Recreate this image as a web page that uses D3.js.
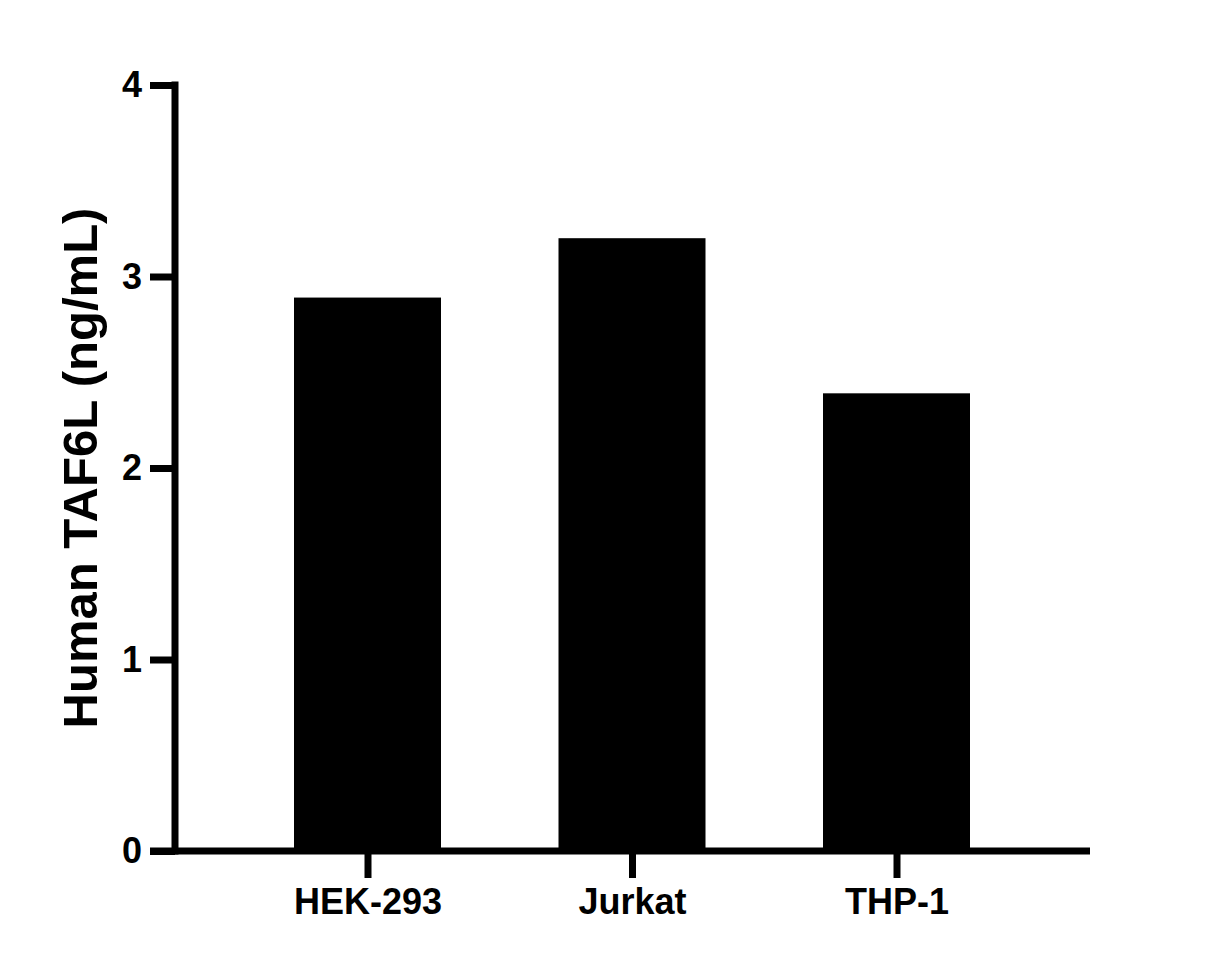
<!doctype html>
<html lang="en">
<head>
<meta charset="utf-8">
<title>Human TAF6L</title>
<script src="https://cdn.jsdelivr.net/npm/d3@7"></script>
<style>
  body { margin: 0; background: #fff; }
  text { font-family: "Liberation Sans", Arial, sans-serif; font-weight: bold; fill: #000; }
</style>
</head>
<body>
<svg id="chart" width="1225" height="972"></svg>
<script>
var categories = ["HEK-293", "Jurkat", "THP-1"];
var values = [2.89, 3.2, 2.39];
var yTicks = [0, 1, 2, 3, 4];

var svg = d3.select("#chart");

var x = d3.scalePoint().domain(categories).range([367.5, 896.5]);
var y = d3.scaleLinear().domain([0, 4]).range([851, 85]);
var barW = 147;

// bars
svg.selectAll("rect.bar")
    .data(values)
  .enter().append("rect")
    .attr("class", "bar")
    .attr("x", function(d, i) { return x(categories[i]) - barW / 2; })
    .attr("y", function(d) { return y(d); })
    .attr("width", barW)
    .attr("height", function(d) { return y(0) - y(d); })
    .attr("fill", "#000");

// y axis
var yAxis = svg.append("g").attr("transform", "translate(175,0)")
    .call(d3.axisLeft(y).tickValues(yTicks).tickSize(25).tickPadding(8).tickFormat(d3.format("d")));
yAxis.select(".domain").attr("stroke-width", 7).attr("d", "M0," + (y(0) + 3.5) + "V" + (y(4) - 3.5));
yAxis.selectAll(".tick line").attr("stroke-width", 7);
yAxis.selectAll(".tick text").style("font-size", "36px");

// x axis
var xAxis = svg.append("g").attr("transform", "translate(0," + y(0) + ")")
    .call(d3.axisBottom(x).tickSize(27).tickPadding(10));
xAxis.select(".domain").attr("stroke-width", 7).attr("d", "M150,0H1090");
xAxis.selectAll(".tick line").attr("stroke-width", 7);
xAxis.selectAll(".tick text").style("font-size", "36px");

// y label
svg.append("text")
    .attr("transform", "translate(97,468) rotate(-90)")
    .attr("text-anchor", "middle")
    .style("font-size", "49px")
    .text("Human TAF6L (ng/mL)");
</script>
</body>
</html>
